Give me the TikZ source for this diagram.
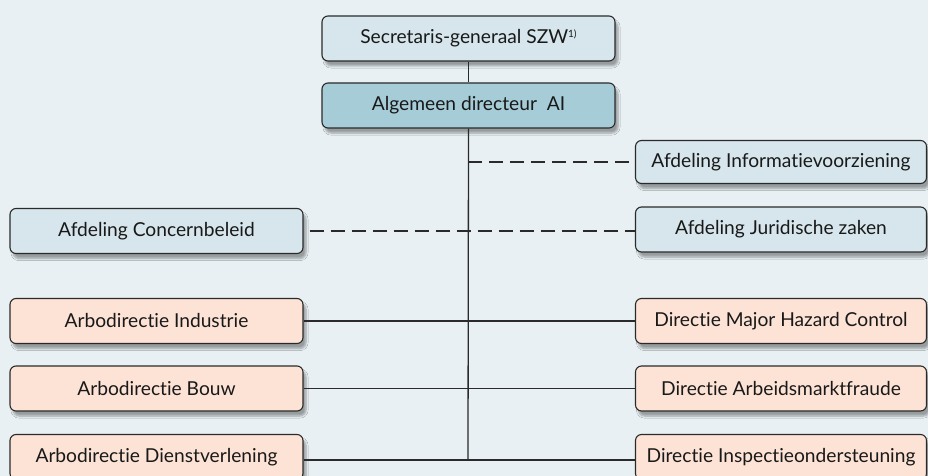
\documentclass[tikz,border=0pt]{standalone}
\usepackage{fontspec}
\setmainfont{Lato}[Ligatures=NoCommon]
\usetikzlibrary{shadows.blur}
\definecolor{bg}{HTML}{E8F0F3}
\definecolor{lblue}{HTML}{D6E6EC}
\definecolor{teal}{HTML}{A6CDD7}
\definecolor{peach}{HTML}{FDE3D6}
\definecolor{edge}{HTML}{2A2A2A}
\newcommand{\smallsup}[1]{\raisebox{6pt}{\fontsize{10}{10}\selectfont #1}}
\tikzset{
  orgbox/.style={draw=edge, line width=1.1pt, rounded corners=6pt,
    minimum width=293pt, minimum height=45pt, inner sep=0pt,
    font=\fontsize{19.2}{22}\selectfont, text=black!90,
    blur shadow={shadow xshift=3pt, shadow yshift=-5pt, shadow blur steps=6, shadow opacity=35}},
  bluebox/.style={orgbox, fill=lblue},
  tealbox/.style={orgbox, fill=teal},
  peachbox/.style={orgbox, fill=peach},
  conn/.style={draw=edge, line width=1.3pt},
  dconn/.style={conn, dash pattern=on 14pt off 7pt}
}
\begin{document}
\begin{tikzpicture}[x=1pt,y=-1pt]
\fill[bg] (0,0) rectangle (928,476);
\useasboundingbox (0,0) rectangle (928,476);
\node[bluebox] (sg) at (468.5,38.5) {Secretaris-generaal SZW\smallsup{1)}};
\node[tealbox] (ad) at (468.5,105.5) {Algemeen directeur\ \ AI};
\node[bluebox, minimum width=291pt, minimum height=43pt] (inf) at (781,162) {Afdeling Informatievoorziening};
\node[bluebox, minimum width=291pt] (jur) at (781,229.5) {Afdeling Juridische zaken};
\node[bluebox] (con) at (156.5,231) {Afdeling Concernbeleid};
\node[peachbox] (ind) at (156.5,321) {Arbodirectie Industrie};
\node[peachbox] (bou) at (156.5,388.5) {Arbodirectie Bouw};
\node[peachbox] (die) at (156.5,457) {Arbodirectie Dienstverlening};
\node[peachbox, minimum width=291pt] (mhc) at (781,321) {Directie Major Hazard Control};
\node[peachbox, minimum width=291pt] (arb) at (781,388.5) {Directie Arbeidsmarktfraude};
\node[peachbox, minimum width=291pt] (ins) at (781,457) {Directie Inspectieondersteuning};
\coordinate (vb) at (468,460);
\coordinate (vi) at (468,162);
\draw[conn] (sg.south) -- (ad.north);
\draw[conn] (ad.south) -- (vb);
\draw[dconn] (vi) -- (inf.west);
\draw[dconn] ([xshift=6pt]con.east) -- (jur.west |- con.east);
\draw[conn] (ind.east) -- (mhc.west);
\draw[conn] (bou.east) -- (arb.west);
\draw[conn] (die.east |- vb) -- (ins.west |- vb);
\end{tikzpicture}
\end{document}
